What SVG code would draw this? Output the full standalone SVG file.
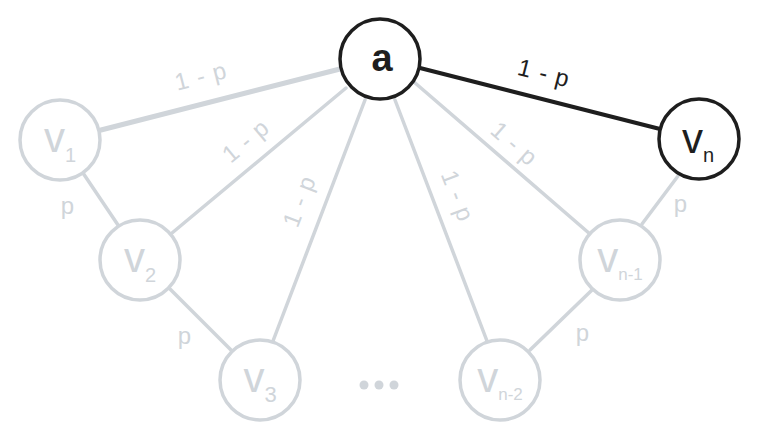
<svg xmlns="http://www.w3.org/2000/svg" width="760" height="440" viewBox="0 0 760 440">
<style>
.g{stroke:#d0d5da;fill:none;stroke-linecap:round}
.k{stroke:#1e1e1e;fill:none;stroke-linecap:round}
.nodeg{fill:#ffffff;stroke:#d0d5da;stroke-width:3.5}
.nodek{fill:#ffffff;stroke:#1e1e1e;stroke-width:3.5}
.t{font-family:"Liberation Sans","DejaVu Sans",sans-serif}
.lg{fill:#d0d5da;font-size:24px;letter-spacing:1px}
.lk{fill:#1e1e1e;font-size:24px;letter-spacing:1px}
.vg{fill:#d0d5da}
.vk{fill:#1e1e1e}
</style>
<rect width="760" height="440" fill="#ffffff"/>
<g id="connectors">
<line class="g" x1="340" y1="69" x2="101" y2="130" stroke-width="5"/>
<line class="g" x1="346" y1="88" x2="172" y2="233" stroke-width="3.5"/>
<line class="g" x1="365" y1="100" x2="273" y2="341" stroke-width="3.5"/>
<line class="g" x1="395" y1="100" x2="487" y2="341" stroke-width="3.5"/>
<line class="g" x1="414" y1="82" x2="590" y2="234" stroke-width="3.5"/>
<line class="g" x1="83" y1="173" x2="118" y2="225" stroke-width="3.5"/>
<line class="g" x1="170" y1="289" x2="232" y2="351" stroke-width="3.5"/>
<line class="g" x1="530" y1="350" x2="592" y2="290" stroke-width="3.5"/>
<line class="g" x1="642" y1="224" x2="678" y2="176" stroke-width="3.5"/>
<line class="k" x1="420" y1="68" x2="660" y2="129" stroke-width="4"/>
<text class="t lg" text-anchor="middle" transform="translate(203,84) rotate(-14.5)">1 - p</text>
<text class="t lg" text-anchor="middle" transform="translate(251,147) rotate(-40)">1 - p</text>
<text class="t lg" text-anchor="middle" transform="translate(307,204) rotate(-69)">1 - p</text>
<text class="t lg" text-anchor="middle" transform="translate(450,199) rotate(69)">1 - p</text>
<text class="t lg" text-anchor="middle" transform="translate(509,150) rotate(41)">1 - p</text>
<text class="t lk" text-anchor="middle" transform="translate(542,81) rotate(14.3)">1 - p</text>
<text class="t lg" text-anchor="middle" x="68" y="214" font-size="24">p</text>
<text class="t lg" text-anchor="middle" x="185" y="344" font-size="24">p</text>
<text class="t lg" text-anchor="middle" x="583" y="341" font-size="24">p</text>
<text class="t lg" text-anchor="middle" x="681" y="212" font-size="24">p</text>
</g>
<g id="node-a">
<circle class="nodek" cx="380" cy="59" r="40"/>
<text class="t vk" x="382" y="71" text-anchor="middle" font-size="38" font-weight="bold">a</text>
</g>
<g id="node-vn">
<circle class="nodek" cx="699" cy="139" r="40"/>
<text class="t vk" x="698" y="153" text-anchor="middle" font-size="42">v<tspan font-size="20" dy="9">n</tspan></text>
</g>
<g id="node-v1">
<circle class="nodeg" cx="60" cy="140" r="40"/>
<text class="t vg" x="60" y="152" text-anchor="middle" font-size="42">v<tspan font-size="20" dy="10">1</tspan></text>
</g>
<g id="node-v2">
<circle class="nodeg" cx="140" cy="260" r="40"/>
<text class="t vg" x="140" y="272" text-anchor="middle" font-size="42">v<tspan font-size="20" dy="10">2</tspan></text>
</g>
<g id="node-v3">
<circle class="nodeg" cx="260" cy="380" r="40"/>
<text class="t vg" x="260" y="392" text-anchor="middle" font-size="42">v<tspan font-size="22" dy="10">3</tspan></text>
</g>
<g id="node-vn-2">
<circle class="nodeg" cx="500" cy="380" r="40"/>
<text class="t vg" x="500" y="392" text-anchor="middle" font-size="42">v<tspan font-size="17" dy="8">n-2</tspan></text>
</g>
<g id="node-vn-1">
<circle class="nodeg" cx="620" cy="260" r="40"/>
<text class="t vg" x="620" y="272" text-anchor="middle" font-size="42">v<tspan font-size="17" dy="8">n-1</tspan></text>
</g>
<g id="ellipsis">
<circle cx="364" cy="385" r="4.5" fill="#d0d5da"/>
<circle cx="379" cy="385" r="4.5" fill="#d0d5da"/>
<circle cx="394" cy="385" r="4.5" fill="#d0d5da"/>
</g>
</svg>
